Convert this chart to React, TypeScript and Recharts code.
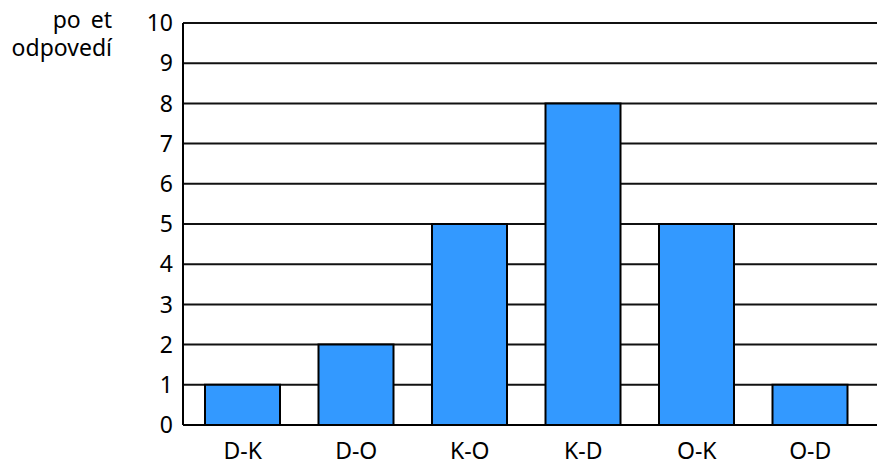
import React from 'react';
import { BarChart, Bar, XAxis, YAxis, CartesianGrid } from 'recharts';

const categories = ['D-K', 'D-O', 'K-O', 'K-D', 'O-K', 'O-D'];
const counts = [1, 2, 5, 8, 5, 1];
const yTicks = [0, 1, 2, 3, 4, 5, 6, 7, 8, 9, 10];
const yLabelLines = ['po et', 'odpovedí'];

const data = categories.map((name, i) => ({ name, count: counts[i] }));

const FONT = '"Noto Sans", sans-serif';

const App = () => {
  return (
    <div style={{ position: 'absolute', left: 0, top: 0, width: 877, height: 465, background: '#fff' }}>
      {/* axis title sits in the top-left corner */}
      <div
        style={{
          position: 'absolute',
          left: 0,
          top: 5,
          width: 112,
          textAlign: 'right',
          fontFamily: FONT,
          fontSize: 23,
          lineHeight: '28px',
          wordSpacing: 4,
          color: '#000',
        }}
      >
        {yLabelLines.map((line) => (
          <div key={line}>{line}</div>
        ))}
      </div>
      <BarChart
        width={877}
        height={465}
        data={data}
        margin={{ top: 23, right: 0, left: 0, bottom: 0 }}
      >
        <CartesianGrid vertical={false} stroke="#111" strokeWidth={2} />
        <XAxis
          dataKey="name"
          height={40}
          padding={{ left: 3, right: 10 }}
          tickSize={0}
          tickMargin={18}
          axisLine={{ stroke: '#000', strokeWidth: 2 }}
          tick={{ fill: '#000', fontSize: 23, fontFamily: FONT }}
        />
        <YAxis
          width={183}
          domain={[0, 10]}
          ticks={yTicks}
          interval={0}
          tickSize={0}
          tickMargin={10}
          axisLine={{ stroke: '#000', strokeWidth: 2 }}
          tick={{ fill: '#000', fontSize: 23, fontFamily: FONT }}
        />
        <Bar dataKey="count" fill="#3399ff" stroke="#000" strokeWidth={2} barSize={75} isAnimationActive={false} />
      </BarChart>
    </div>
  );
};

export default App;
